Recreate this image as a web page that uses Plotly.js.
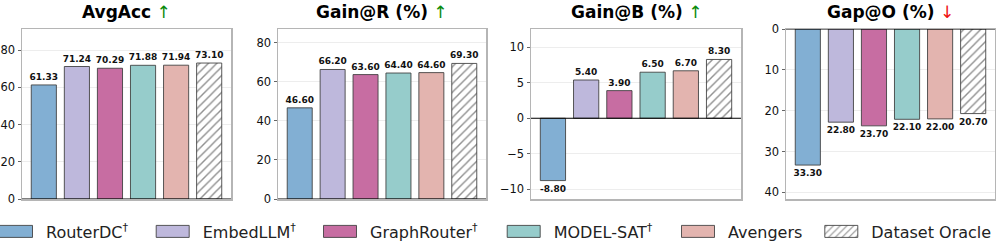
<!DOCTYPE html>
<html><head><meta charset="utf-8">
<script src="https://cdn.plot.ly/plotly-3.0.1.min.js"></script>
<style>html,body{margin:0;padding:0;background:#fff}</style>
</head><body><div id="chart" style="width:996px;height:241px"></div>
<script>
// ---- data ----
const methods = ['RouterDC', 'EmbedLLM', 'GraphRouter', 'MODEL-SAT', 'Avengers', 'Dataset Oracle'];
const methodLabels = ['RouterDC<sup>†</sup>', 'EmbedLLM<sup>†</sup>', 'GraphRouter<sup>†</sup>', 'MODEL-SAT<sup>†</sup>', 'Avengers', 'Dataset Oracle'];
const avgAcc = [61.33, 71.24, 70.29, 71.88, 71.94, 73.10];
const gainR = [46.60, 66.20, 63.60, 64.40, 64.60, 69.30];
const gainB = [-8.80, 5.40, 3.90, 6.50, 6.70, 8.30];
const gapO = [33.30, 22.80, 23.70, 22.10, 22.00, 20.70];
const panelTitles = ['AvgAcc', 'Gain@R (%)', 'Gain@B (%)', 'Gap@O (%)'];
const panelArrows = ['↑', '↑', '↑', '↓'];

// ---- style ----
const colors = ['#82AFD3', '#BEB8DC', '#C76DA2', '#96CCCB', '#E3B4AF', '#FFFFFF'];
const FONT = 'DejaVu Sans';
const panels = [avgAcc, gainR, gainB, gapO];
const yRanges = [[0, 91.4], [0, 86.9], [-11.4, 12.6], [41.6, 0]];
const dticks = [20, 20, 5, 10];
const xDomains = [[22/996, 231/996], [278/996, 486/996], [531/996, 741/996], [786/996, 995/996]];
const yDomain = [(241-199)/241, (241-29)/241];
const legendSwatchLeft = [0, 156.7, 324, 507.7, 682, 825.3]; // px

const traces = [];
panels.forEach((vals, p) => {
  const ax = p === 0 ? '' : String(p + 1);
  methods.forEach((m, i) => {
    const isOracle = i === methods.length - 1;
    traces.push({
      type: 'bar',
      x: [m], y: [vals[i]],
      xaxis: 'x' + ax, yaxis: 'y' + ax,
      name: methodLabels[i],
      legendgroup: m,
      legend: i === 0 ? 'legend' : 'legend' + (i + 1),
      showlegend: p === 0,
      width: 0.76,
      marker: {
        color: colors[i],
        line: {color: 'rgba(60,60,60,0.85)', width: 1},
        pattern: isOracle ? {shape: '/', fgcolor: '#222', bgcolor: '#fff', size: 6, solidity: 0.24, fillmode: 'overlay'} : {shape: ''}
      },
      texttemplate: '%{y:.2f}',
      textposition: 'outside',
      constraintext: 'none',
      cliponaxis: false,
      textfont: {family: FONT, size: 9, weight: 'bold', color: '#111'},
      hoverinfo: 'skip'
    });
  });
});

const layout = {
  width: 996, height: 241,
  margin: {l: 0, r: 0, t: 0, b: 0, autoexpand: false},
  paper_bgcolor: '#fff', plot_bgcolor: '#fff',
  font: {family: FONT, color: '#111'},
  barmode: 'overlay',
  showlegend: true,
  shapes: [], annotations: []
};
methods.forEach((m, i) => {
  const key = i === 0 ? 'legend' : 'legend' + (i + 1);
  layout[key] = {
    orientation: 'h', x: (legendSwatchLeft[i] - 14) / 996, xanchor: 'left',
    y: (241 - 231.5) / 241, yanchor: 'middle',
    font: {family: FONT, size: 16, color: '#222'}, itemwidth: 50,
    bgcolor: 'rgba(0,0,0,0)', borderwidth: 0
  };
});

panels.forEach((vals, p) => {
  const ax = p === 0 ? '' : String(p + 1);
  layout['xaxis' + ax] = {
    domain: xDomains[p], anchor: 'y' + ax,
    type: 'category', categoryarray: methods, categoryorder: 'array',
    range: [-0.66, 5.66], showticklabels: false, ticks: '',
    showline: true, mirror: true, linecolor: '#b5b5b5', linewidth: 1.5,
    showgrid: false, zeroline: false, fixedrange: true
  };
  layout['yaxis' + ax] = {
    domain: yDomain, anchor: 'x' + ax,
    range: yRanges[p], autorange: false, dtick: dticks[p], tick0: 0,
    ticks: 'outside', ticklen: 3, tickcolor: '#666', tickwidth: 1,
    ticklabelstandoff: 0,
    tickfont: {family: FONT, size: 11.5, color: '#111'},
    showline: true, mirror: true, linecolor: '#b5b5b5', linewidth: 1.5,
    showgrid: true, gridcolor: '#ededed', gridwidth: 1, zeroline: false, fixedrange: true
  };
  layout.shapes.push({type: 'line', xref: 'x' + ax + ' domain', x0: 0, x1: 1,
    yref: 'y' + ax, y0: 0, y1: 0, line: {color: '#000', width: 1.2}, layer: 'above'});
  const arrowColor = panelArrows[p] === '↑' ? '#0a8a0a' : '#ee1111';
  layout.annotations.push({
    xref: 'x' + ax + ' domain', x: 0.5, yref: 'paper', y: 1 - 12/241,
    xanchor: 'center', yanchor: 'middle', showarrow: false,
    text: '<b>' + panelTitles[p] + '</b> <span style="color:' + arrowColor + '">' + panelArrows[p] + '</span>',
    font: {family: FONT, size: 17, color: '#000'}
  });
});

Plotly.newPlot('chart', traces, layout, {staticPlot: true, displayModeBar: false}).then(gd => {
  gd.querySelectorAll('.legendpoints path').forEach(p => {
    p.setAttribute('d', 'M-16.5,6H16.5V-6H-16.5Z');
  });
});
</script></body></html>
